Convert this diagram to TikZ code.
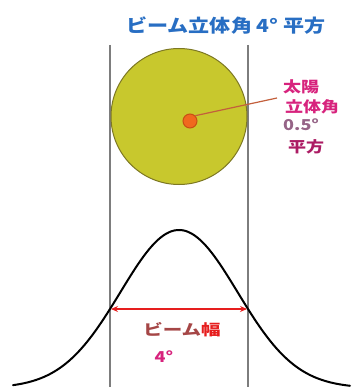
\documentclass[tikz,border=0pt]{standalone}
\usepackage{fontspec}
\setmainfont{Noto Sans CJK JP}
\usetikzlibrary{arrows.meta}
\definecolor{titleblue}{RGB}{40,110,195}
\definecolor{sunmag}{RGB}{215,35,125}
\definecolor{greymag}{RGB}{150,100,135}
\definecolor{brownred}{RGB}{165,70,70}
\definecolor{brightred}{RGB}{230,30,30}
\definecolor{discfill}{RGB}{200,200,45}
\definecolor{discedge}{RGB}{125,120,35}
\definecolor{sunfill}{RGB}{240,105,30}
\definecolor{sunedge}{RGB}{200,80,20}
\definecolor{guide}{RGB}{125,125,125}
\definecolor{pointer}{RGB}{195,95,60}
\tikzset{
  guideline/.style={guide, line width=1.2pt},
  disc/.style={circle, draw=discedge, fill=discfill, line width=1pt, minimum size=136pt, inner sep=0pt},
  sun/.style={circle, draw=sunedge, fill=sunfill, line width=1pt, minimum size=14pt, inner sep=0pt},
  rlabel/.style={anchor=west, inner sep=0pt, font=\fontsize{15}{15}\selectfont\bfseries, xscale=1.2},
}
\begin{document}
\begin{tikzpicture}[x=1pt, y=-1pt]
\useasboundingbox (0,0) rectangle (352,387);
% guide lines
\coordinate (lt) at (110,45);
\coordinate (lb) at (110,387);
\coordinate (rt) at (248,45);
\coordinate (rb) at (248,387);
\draw[guideline] (lt) -- (lb);
\draw[guideline] (rt) -- (rb);
% title
\node[inner sep=0pt, text=titleblue, font=\fontsize{18}{18}\selectfont\bfseries, xscale=1.17] (title) at (226,26) {ビーム立体角 4° 平方};
% beam disc and sun
\node[disc] (disc) at (179,116.5) {};
\node[sun] (sun) at (190,121) {};
% right labels
\node[rlabel, text=sunmag] (l1) at (283,87) {太陽};
\node[rlabel, text=sunmag] (l2) at (285,107) {立体角};
\node[rlabel, text=greymag] (l3) at (283,125) {0.5°};
\node[rlabel, text=sunmag!80!black] (l4) at (288,147) {平方};
\draw[pointer, line width=1.2pt] (sun.north east) -- (277,98) coordinate (ptr);
% gaussian
\draw[black, line width=2pt, line cap=round, smooth, samples=120, domain=13:350]
  plot (\x, {388 - 158*exp(-0.5*((\x-179)/58.6)*((\x-179)/58.6))});
% beam width arrow
\coordinate (al) at (111,309);
\coordinate (ar) at (247,309);
\draw[brightred, line width=1.6pt, {Stealth[length=7pt,width=6pt]}-{Stealth[length=7pt,width=6pt]}] (al) -- (ar);
\node[inner sep=0pt, font=\fontsize{15}{15}\selectfont\bfseries, xscale=1.3] (bw) at (182,330) {\textcolor{brownred}{ビーム}\textcolor{brightred}{幅}};
\node[inner sep=0pt, text=sunmag, font=\fontsize{15}{15}\selectfont\bfseries, xscale=1.2] (bw4) at (164,357) {4°};
\end{tikzpicture}
\end{document}
